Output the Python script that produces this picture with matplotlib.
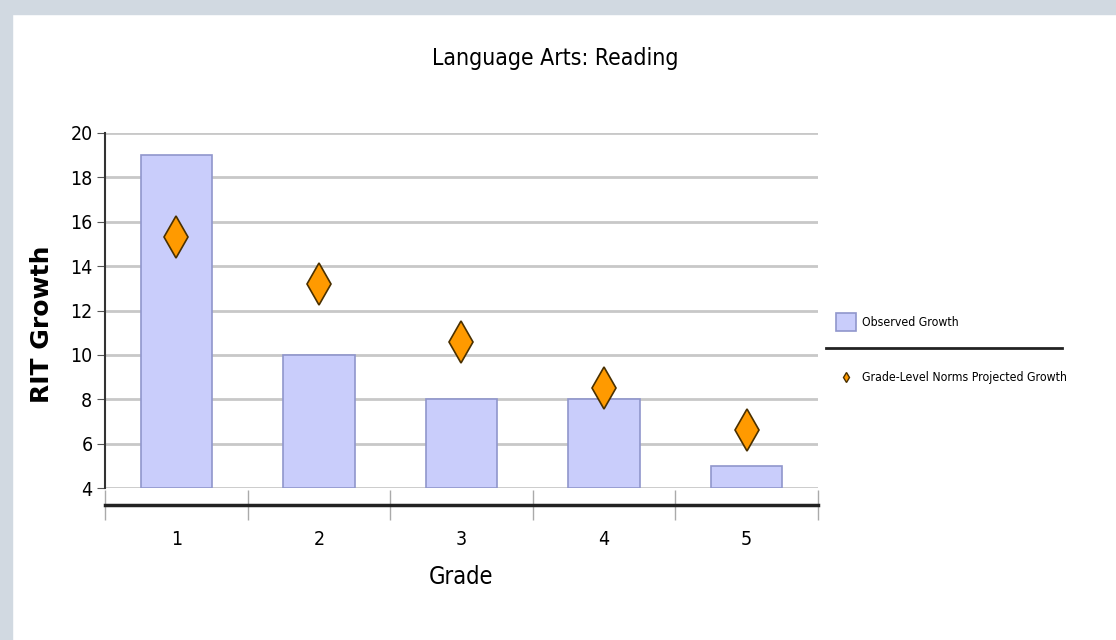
import matplotlib
matplotlib.use("Agg")
import matplotlib.pyplot as plt
from matplotlib.patches import Rectangle
from matplotlib.lines import Line2D

COND = {'family': 'DejaVu Sans', 'stretch': 'condensed'}

# data
grades = [1, 2, 3, 4, 5]
grade_labels = ['1', '2', '3', '4', '5']
observed = [19, 10, 8, 8, 5]
projected = [15.3, 13.2, 10.6, 8.5, 6.6]
y_ticks = [4, 6, 8, 10, 12, 14, 16, 18, 20]

fig = plt.figure(figsize=(11.16, 6.4), dpi=100)
fig.patch.set_facecolor('white')

# gray-blue frame on top / left
fig.patches.append(Rectangle((0, 1 - 14 / 640), 1, 14 / 640, transform=fig.transFigure,
                             color='#d1d9e1', zorder=0))
fig.patches.append(Rectangle((0, 0), 12 / 1116, 1, transform=fig.transFigure,
                             color='#d1d9e1', zorder=0))

ax = fig.add_axes([105 / 1116, 1 - 488 / 640, (818 - 105) / 1116, (488 - 133) / 640])

bars = ax.bar(grades, [v - 4 for v in observed], bottom=4, width=0.5,
              color='#c9cdfb', edgecolor='#9096cc', linewidth=1.2, zorder=2,
              label='Observed Growth')
pts, = ax.plot(grades, projected, linestyle='none', marker='d', markersize=21,
               markerfacecolor='#ff9a00', markeredgecolor='#4a3000', markeredgewidth=1.2,
               zorder=3, label='Grade-Level Norms Projected Growth')

ax.set_xlim(0.5, 5.5)
ax.set_ylim(4, 20)
ax.set_yticks(y_ticks)
ax.yaxis.grid(True, color='#c8c8c8', linewidth=2)
ax.set_axisbelow(True)

for s in ['top', 'right']:
    ax.spines[s].set_visible(False)
ax.spines['left'].set_color('#333333')
ax.spines['left'].set_linewidth(1.5)
ax.spines['bottom'].set_position(('outward', 12))
ax.spines['bottom'].set_color('#222222')
ax.spines['bottom'].set_linewidth(2.5)

ax.set_xticks(grades)
ax.set_xticklabels(grade_labels)
ax.set_xticks([g - 0.5 for g in grades] + [5.5], minor=True)
ax.tick_params(axis='x', which='major', length=0, pad=18)
ax.tick_params(axis='x', which='minor', length=22, direction='inout', color='#aaaaaa', width=1)
ax.tick_params(axis='y', length=6, color='#555555', pad=3)
for lab in ax.get_xticklabels() + ax.get_yticklabels():
    lab.set_family(COND['family'])
    lab.set_stretch(COND['stretch'])
    lab.set_fontsize(14)

ax.set_xlabel('Grade', fontsize=17, labelpad=12, **COND)
ax.set_ylabel('RIT Growth', family='DejaVu Sans', fontweight='bold', fontsize=18)
ax.yaxis.set_label_coords(-0.072, 0.46)

fig.text(555 / 1116, 1 - 58 / 640, 'Language Arts: Reading',
         fontsize=16.5, ha='center', va='center', **COND)

# legend
leg_font = {'family': 'DejaVu Sans', 'stretch': 'condensed', 'size': 8.8}
fig.legend(handles=[bars], loc='center left', bbox_to_anchor=(830 / 1116, 1 - 322 / 640),
           frameon=False, prop=leg_font, borderpad=0,
           handlelength=1.6, handleheight=1.9, handletextpad=0.5)
fig.legend(handles=[Line2D([], [], linestyle='none', marker='d', markersize=5,
                           markerfacecolor='#ff9a00', markeredgecolor='#4a3000')],
           labels=[pts.get_label()], loc='center left',
           bbox_to_anchor=(830 / 1116, 1 - 378 / 640),
           frameon=False, prop=leg_font, borderpad=0,
           handlelength=1.6, handletextpad=0.5)
fig.lines.append(Line2D([826 / 1116, 1062 / 1116], [1 - 348 / 640, 1 - 348 / 640],
                        transform=fig.transFigure, color='#222222', linewidth=2))

fig.savefig('out.png', dpi=100)
